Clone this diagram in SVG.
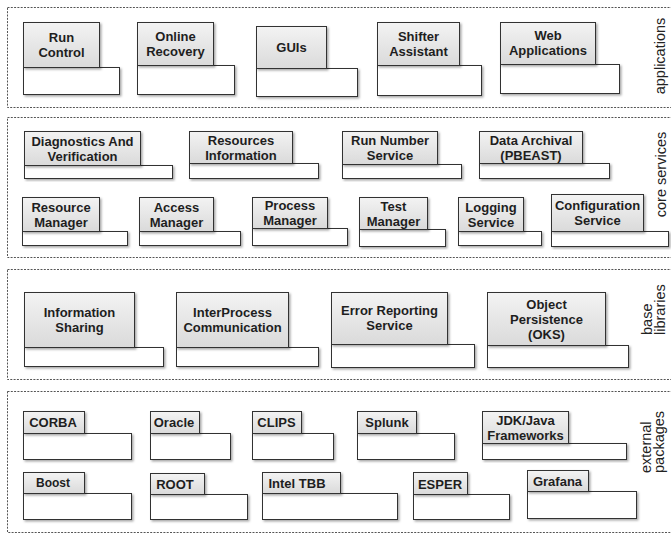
<svg xmlns="http://www.w3.org/2000/svg" width="671" height="534" viewBox="0 0 671 534">
<defs>
<linearGradient id="tabg" x1="0" y1="0" x2="0" y2="1">
<stop offset="0" stop-color="#f3f3f3"/>
<stop offset="1" stop-color="#dadada"/>
</linearGradient>
<filter id="sh" x="-10%" y="-10%" width="125%" height="130%">
<feDropShadow dx="1.5" dy="1.5" stdDeviation="0.8" flood-color="#000" flood-opacity="0.35"/>
</filter>
</defs>
<style>
.layer{fill:none;stroke:#555;stroke-width:1;stroke-dasharray:2,1.3}
.tab{fill:url(#tabg);stroke:#333;stroke-width:1;filter:url(#sh)}
.body{fill:#fff;stroke:#333;stroke-width:1;filter:url(#sh)}
.t{font-family:"Liberation Sans",Arial,sans-serif;font-weight:bold;font-size:13px;fill:#1e1e1e;text-anchor:middle}
.lbl{font-family:"Liberation Sans",Arial,sans-serif;font-size:14.5px;fill:#222}
</style>
<g id="layers">
<rect class="layer" x="7.5" y="7.5" width="680" height="100"/>
<rect class="layer" x="7.5" y="117.5" width="680" height="140"/>
<rect class="layer" x="7.5" y="269.5" width="680" height="110"/>
<rect class="layer" x="7.5" y="391.5" width="680" height="141"/>
<text class="lbl" transform="translate(665,56) rotate(-90)" text-anchor="middle">applications</text>
<text class="lbl" transform="translate(666,174.5) rotate(-90)" text-anchor="middle">core services</text>
<text class="lbl" transform="translate(651.5,335) rotate(-90)">base</text>
<text class="lbl" transform="translate(665,335) rotate(-90)">libraries</text>
<text class="lbl" transform="translate(650.5,473) rotate(-90)">external</text>
<text class="lbl" transform="translate(664,473) rotate(-90)">packages</text>
</g>
<g id="connectors"></g>
<g id="run-control"><rect class="body" x="23.5" y="67.5" width="96" height="27"/><rect class="tab" x="23.5" y="22.5" width="76" height="45"/><text class="t" x="61.5" y="41.7">Run</text><text class="t" x="61.5" y="56.7">Control</text></g>
<g id="online-recovery"><rect class="body" x="137.5" y="65.5" width="97" height="29"/><rect class="tab" x="137.5" y="22.5" width="76" height="43"/><text class="t" x="175.5" y="40.7">Online</text><text class="t" x="175.5" y="55.7">Recovery</text></g>
<g id="guis"><rect class="body" x="256.5" y="68.5" width="101" height="28"/><rect class="tab" x="256.5" y="26.5" width="70" height="42"/><text class="t" x="291.5" y="52">GUIs</text></g>
<g id="shifter-assistant"><rect class="body" x="377.5" y="65.5" width="104" height="30"/><rect class="tab" x="377.5" y="22.5" width="82" height="43"/><text class="t" x="418.5" y="40.7">Shifter</text><text class="t" x="418.5" y="55.7">Assistant</text></g>
<g id="web-applications"><rect class="body" x="500.5" y="64.5" width="119" height="29"/><rect class="tab" x="500.5" y="22.5" width="95" height="42"/><text class="t" x="548" y="40.2">Web</text><text class="t" x="548" y="55.2">Applications</text></g>

<g id="diagnostics"><rect class="body" x="24.5" y="165.5" width="148" height="13"/><rect class="tab" x="24.5" y="131.5" width="116" height="34"/><text class="t" x="82.5" y="145.7">Diagnostics And</text><text class="t" x="82.5" y="160.7">Verification</text></g>
<g id="resources-information"><rect class="body" x="189.5" y="163.5" width="129" height="15"/><rect class="tab" x="189.5" y="131.5" width="103" height="32"/><text class="t" x="241" y="144.7">Resources</text><text class="t" x="241" y="159.7">Information</text></g>
<g id="run-number-service"><rect class="body" x="342.5" y="164.5" width="119" height="14"/><rect class="tab" x="342.5" y="131.5" width="95" height="33"/><text class="t" x="390" y="145.2">Run Number</text><text class="t" x="390" y="160.2">Service</text></g>
<g id="data-archival"><rect class="body" x="479.5" y="163.5" width="130" height="15"/><rect class="tab" x="479.5" y="131.5" width="103" height="32"/><text class="t" x="531" y="144.7">Data Archival</text><text class="t" x="531" y="159.7">(PBEAST)</text></g>
<g id="resource-manager"><rect class="body" x="22.5" y="231.5" width="105" height="14"/><rect class="tab" x="22.5" y="197.5" width="77" height="34"/><text class="t" x="61" y="211.7">Resource</text><text class="t" x="61" y="226.7">Manager</text></g>
<g id="access-manager"><rect class="body" x="139.5" y="231.5" width="101" height="14"/><rect class="tab" x="139.5" y="197.5" width="74" height="34"/><text class="t" x="176.5" y="211.7">Access</text><text class="t" x="176.5" y="226.7">Manager</text></g>
<g id="process-manager"><rect class="body" x="252.5" y="228.5" width="95" height="17"/><rect class="tab" x="252.5" y="197.5" width="75" height="31"/><text class="t" x="290" y="210.2">Process</text><text class="t" x="290" y="225.2">Manager</text></g>
<g id="test-manager"><rect class="body" x="359.5" y="229.5" width="86" height="17"/><rect class="tab" x="359.5" y="197.5" width="68" height="32"/><text class="t" x="393.5" y="210.7">Test</text><text class="t" x="393.5" y="225.7">Manager</text></g>
<g id="logging-service"><rect class="body" x="458.5" y="231.5" width="83" height="14"/><rect class="tab" x="458.5" y="197.5" width="65" height="34"/><text class="t" x="491" y="211.7">Logging</text><text class="t" x="491" y="226.7">Service</text></g>
<g id="configuration-service"><rect class="body" x="551.5" y="231.5" width="117" height="15"/><rect class="tab" x="551.5" y="194.5" width="92" height="37"/><text class="t" x="597.5" y="210.2">Configuration</text><text class="t" x="597.5" y="225.2">Service</text></g>

<g id="information-sharing"><rect class="body" x="24.5" y="347.5" width="139" height="19"/><rect class="tab" x="24.5" y="292.5" width="110" height="55"/><text class="t" x="79.5" y="316.7">Information</text><text class="t" x="79.5" y="331.7">Sharing</text></g>
<g id="interprocess-communication"><rect class="body" x="176.5" y="347.5" width="142" height="19"/><rect class="tab" x="176.5" y="292.5" width="112" height="55"/><text class="t" x="232.5" y="316.7">InterProcess</text><text class="t" x="232.5" y="331.7">Communication</text></g>
<g id="error-reporting-service"><rect class="body" x="331.5" y="344.5" width="143" height="23"/><rect class="tab" x="331.5" y="292.5" width="116" height="52"/><text class="t" x="389.5" y="315.2">Error Reporting</text><text class="t" x="389.5" y="330.2">Service</text></g>
<g id="object-persistence"><rect class="body" x="487.5" y="345.5" width="141" height="22"/><rect class="tab" x="487.5" y="292.5" width="118" height="53"/><text class="t" x="546.5" y="308.7">Object</text><text class="t" x="546.5" y="323.7">Persistence</text><text class="t" x="546.5" y="338.7">(OKS)</text></g>

<g id="corba"><rect class="body" x="23.5" y="433.5" width="108" height="26"/><rect class="tab" x="23.5" y="411.5" width="61" height="22"/><text class="t" x="53" y="427">CORBA</text></g>
<g id="oracle"><rect class="body" x="150.5" y="433.5" width="80" height="26"/><rect class="tab" x="150.5" y="411.5" width="49" height="22"/><text class="t" x="174" y="427">Oracle</text></g>
<g id="clips"><rect class="body" x="252.5" y="433.5" width="81" height="26"/><rect class="tab" x="252.5" y="411.5" width="49" height="22"/><text class="t" x="276.5" y="426.5">CLIPS</text></g>
<g id="splunk"><rect class="body" x="357.5" y="433.5" width="97" height="26"/><rect class="tab" x="357.5" y="411.5" width="59" height="22"/><text class="t" x="387" y="427">Splunk</text></g>
<g id="jdk-java"><rect class="body" x="482.5" y="443.5" width="144" height="16"/><rect class="tab" x="482.5" y="411.5" width="86" height="32"/><text class="t" x="525.5" y="424.7">JDK/Java</text><text class="t" x="525.5" y="439.7">Frameworks</text></g>
<g id="boost"><rect class="body" x="23.5" y="493.5" width="108" height="26"/><rect class="tab" x="23.5" y="472.5" width="61" height="21"/><text class="t" x="53" y="487" style="font-size:12px">Boost</text></g>
<g id="root"><rect class="body" x="150.5" y="494.5" width="97" height="25"/><rect class="tab" x="150.5" y="473.5" width="54" height="21"/><text class="t" x="175" y="488.5">ROOT</text></g>
<g id="intel-tbb"><rect class="body" x="262.5" y="493.5" width="135" height="26"/><rect class="tab" x="262.5" y="472.5" width="78" height="21"/><text class="t" x="297" y="487.5">Intel TBB</text></g>
<g id="esper"><rect class="body" x="413.5" y="494.5" width="96" height="25"/><rect class="tab" x="413.5" y="472.5" width="54" height="22"/><text class="t" x="440" y="488.5">ESPER</text></g>
<g id="grafana"><rect class="body" x="527.5" y="491.5" width="109" height="27"/><rect class="tab" x="527.5" y="470.5" width="61" height="21"/><text class="t" x="557.5" y="485.5">Grafana</text></g>
</svg>
